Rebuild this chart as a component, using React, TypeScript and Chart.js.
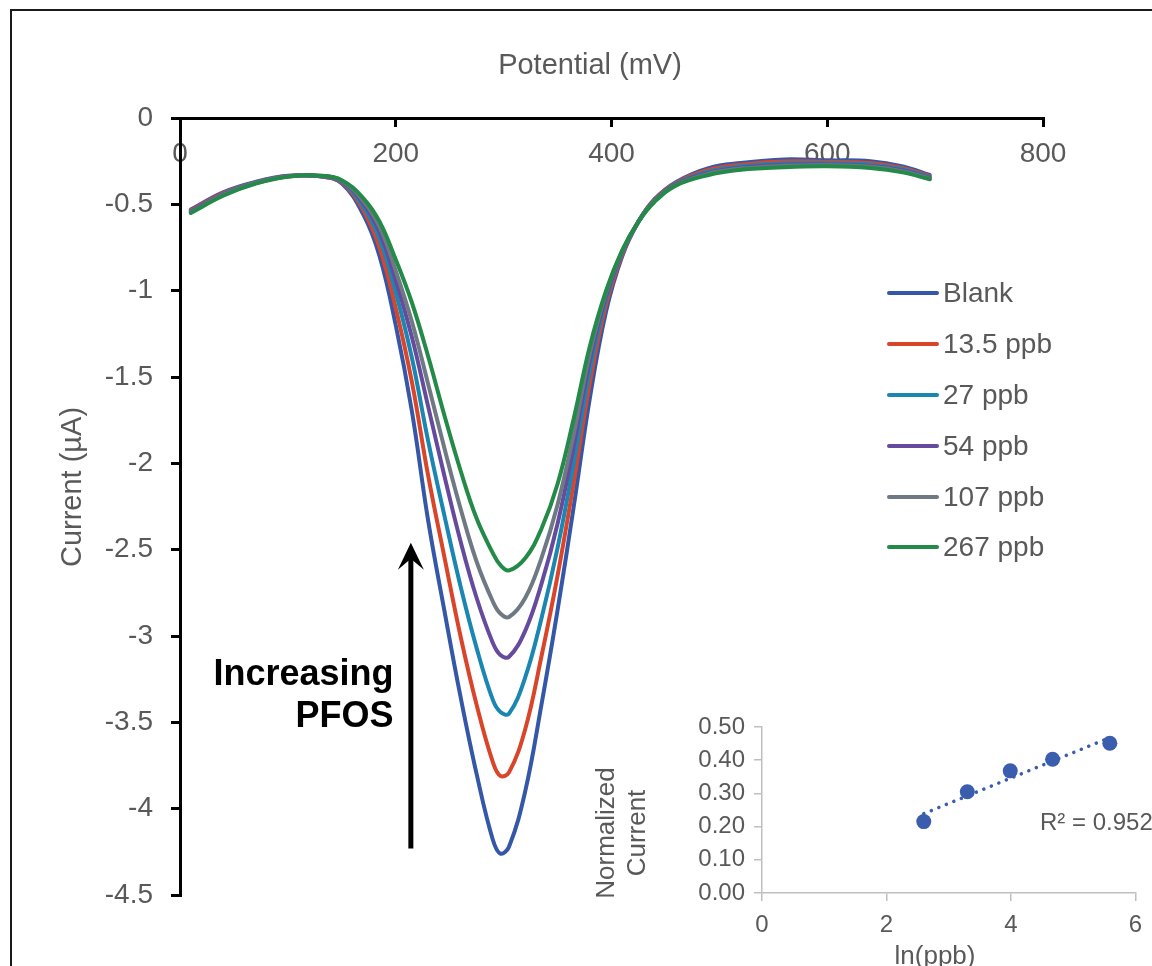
import React, { useEffect, useRef } from "react";
import { Chart, registerables } from "chart.js";

Chart.register(...registerables);

const FONT = "'Liberation Sans', Arial, Helvetica, sans-serif";
const TEXT = "#595959";

// ---------- main voltammogram data ----------
const potentials = [10, 40, 70, 100, 130, 150, 170, 185, 200, 215, 230, 245, 260, 275, 290, 297, 305, 320, 335, 350, 365, 380, 395, 410, 425, 440, 460, 490, 520, 560, 600, 640, 670, 695];

const blank = [-0.53, -0.43, -0.37, -0.335, -0.338, -0.38, -0.56, -0.8, -1.2, -1.7, -2.33, -2.85, -3.35, -3.8, -4.18, -4.26, -4.22, -3.9, -3.4, -2.85, -2.25, -1.62, -1.12, -0.8, -0.6, -0.47, -0.37, -0.29, -0.26, -0.24, -0.245, -0.25, -0.28, -0.33];
const ppb13_5 = [-0.535, -0.435, -0.373, -0.336, -0.338, -0.375, -0.535, -0.75, -1.1, -1.53, -2.07, -2.54, -3.0, -3.4, -3.73, -3.81, -3.79, -3.54, -3.12, -2.65, -2.11, -1.53, -1.08, -0.79, -0.6, -0.47, -0.375, -0.3, -0.27, -0.252, -0.254, -0.261, -0.289, -0.337];
const ppb27 = [-0.54, -0.44, -0.375, -0.337, -0.337, -0.37, -0.515, -0.7, -1.01, -1.39, -1.87, -2.3, -2.71, -3.07, -3.37, -3.44, -3.45, -3.24, -2.9, -2.49, -2.0, -1.46, -1.05, -0.78, -0.6, -0.475, -0.38, -0.31, -0.28, -0.262, -0.262, -0.27, -0.297, -0.342];
const ppb54 = [-0.544, -0.444, -0.377, -0.338, -0.336, -0.366, -0.495, -0.66, -0.94, -1.27, -1.67, -2.07, -2.45, -2.78, -3.04, -3.11, -3.12, -2.97, -2.7, -2.35, -1.9, -1.4, -1.03, -0.775, -0.6, -0.478, -0.384, -0.318, -0.288, -0.271, -0.269, -0.278, -0.304, -0.347];
const ppb107 = [-0.547, -0.447, -0.378, -0.339, -0.335, -0.363, -0.48, -0.63, -0.885, -1.18, -1.54, -1.91, -2.26, -2.57, -2.8, -2.87, -2.89, -2.78, -2.55, -2.24, -1.83, -1.36, -1.01, -0.77, -0.6, -0.48, -0.387, -0.323, -0.293, -0.277, -0.274, -0.283, -0.309, -0.351];
const ppb267 = [-0.55, -0.45, -0.38, -0.34, -0.334, -0.36, -0.465, -0.6, -0.82, -1.07, -1.38, -1.72, -2.04, -2.32, -2.52, -2.59, -2.62, -2.55, -2.38, -2.12, -1.74, -1.32, -1.0, -0.765, -0.6, -0.485, -0.39, -0.33, -0.3, -0.285, -0.28, -0.29, -0.315, -0.355];

const seriesNames = ["Blank", "13.5 ppb", "27 ppb", "54 ppb", "107 ppb", "267 ppb"];
const seriesValues = [blank, ppb13_5, ppb27, ppb54, ppb107, ppb267];
const seriesColors = ["#3557A8", "#D9452B", "#1A86B2", "#654A9D", "#6E7983", "#238A48"];

const xTicks = [0, 200, 400, 600, 800];
const yTicks = [0, -0.5, -1, -1.5, -2, -2.5, -3, -3.5, -4, -4.5];
const xTitle = "Potential (mV)";
const yTitle = "Current (µA)";
const annotationLines = ["Increasing", "PFOS"];

// ---------- inset calibration data ----------
const lnPpb = [2.6, 3.3, 3.99, 4.67, 5.59];
const normCurrent = [0.215, 0.305, 0.368, 0.403, 0.451];
const trendX = [2.6, 5.59];
const trendY = [0.239, 0.468];
const insetXTicks = [0, 2, 4, 6];
const insetYTicks = [0, 0.1, 0.2, 0.3, 0.4, 0.5];
const insetXTitle = "ln(ppb)";
const insetYTitle = ["Normalized", "Current"];
const r2Label = "R² = 0.952";
const insetColor = "#3A5DAE";

function MainChart() {
  const ref = useRef<HTMLCanvasElement>(null);
  useEffect(() => {
    const canvas = ref.current!;
    const decor = {
      id: "mainDecor",
      afterDraw(chart: any) {
        const { ctx } = chart;
        const x = chart.scales.x;
        const y = chart.scales.y;
        ctx.save();
        ctx.fillStyle = TEXT;
        ctx.font = `29px ${FONT}`;
        ctx.textAlign = "center";
        ctx.textBaseline = "middle";
        ctx.fillText(xTitle, 590, 66);
        ctx.save();
        ctx.translate(73, 487);
        ctx.rotate(-Math.PI / 2);
        ctx.fillText(yTitle, 0, 0);
        ctx.restore();

        // arrow annotation
        const ax = x.getPixelForValue(214);
        const tipY = y.getPixelForValue(-2.46);
        const baseY = y.getPixelForValue(-4.23);
        ctx.strokeStyle = "#000";
        ctx.fillStyle = "#000";
        ctx.lineWidth = 5;
        ctx.beginPath();
        ctx.moveTo(ax, baseY);
        ctx.lineTo(ax, tipY + 14);
        ctx.stroke();
        ctx.beginPath();
        ctx.moveTo(ax, tipY);
        ctx.lineTo(ax - 13, tipY + 27);
        ctx.lineTo(ax, tipY + 16);
        ctx.lineTo(ax + 13, tipY + 27);
        ctx.closePath();
        ctx.fill();

        ctx.font = `bold 36px ${FONT}`;
        ctx.textAlign = "right";
        ctx.textBaseline = "middle";
        const tx = x.getPixelForValue(198);
        ctx.fillText(annotationLines[0], tx, y.getPixelForValue(-3.225));
        ctx.fillText(annotationLines[1], tx, y.getPixelForValue(-3.47));
        ctx.restore();
      },
    };

    const chart = new Chart(canvas, {
      type: "line",
      data: {
        datasets: seriesValues.map((vals, i) => ({
          label: seriesNames[i],
          data: potentials.map((p, j) => ({ x: p, y: vals[j] })),
          borderColor: seriesColors[i],
          backgroundColor: seriesColors[i],
          borderWidth: 4,
          pointRadius: 0,
          fill: false,
          tension: 0.4,
          borderCapStyle: "round",
          borderJoinStyle: "round",
          order: seriesNames.length - i,
        })),
      },
      options: {
        responsive: false,
        animation: false,
        events: [],
        layout: { padding: { left: 0, top: 0, right: 1152 - 1043, bottom: 966 - 895 } },
        plugins: { legend: { display: false }, tooltip: { enabled: false } },
        scales: {
          x: {
            type: "linear",
            position: "top",
            min: 0,
            max: 800,
            afterBuildTicks: (s: any) => {
              s.ticks = xTicks.map((v) => ({ value: v }));
            },
            afterFit: (s: any) => {
              s.height = 118;
            },
            border: { display: true, color: "#000", width: 3 },
            grid: { display: true, drawOnChartArea: false, drawTicks: true, tickLength: -9, color: "#000", lineWidth: 3 },
            ticks: {
              mirror: true,
              padding: 19,
              color: TEXT,
              autoSkip: false,
              maxRotation: 0,
              font: { family: FONT, size: 28, lineHeight: 1.2 },
              callback: (v: any) => String(v),
            },
          },
          y: {
            type: "linear",
            min: -4.5,
            max: 0,
            afterBuildTicks: (s: any) => {
              s.ticks = yTicks.map((v) => ({ value: v }));
            },
            afterFit: (s: any) => {
              s.width = 180;
            },
            border: { display: true, color: "#000", width: 3 },
            grid: { display: true, drawOnChartArea: false, drawTicks: true, tickLength: 9, color: "#000", lineWidth: 3 },
            ticks: {
              padding: 18,
              color: TEXT,
              autoSkip: false,
              font: { family: FONT, size: 28 },
              callback: (v: any) => String(+v),
            },
          },
        },
      },
      plugins: [decor],
    } as any);
    return () => chart.destroy();
  }, []);
  return <canvas ref={ref} width={1152} height={966} style={{ position: "absolute", left: 0, top: 0 }} />;
}

function InsetChart() {
  const ref = useRef<HTMLCanvasElement>(null);
  useEffect(() => {
    const canvas = ref.current!;
    const decor = {
      id: "insetDecor",
      afterDraw(chart: any) {
        const { ctx } = chart;
        ctx.save();
        ctx.fillStyle = TEXT;
        ctx.font = `26px ${FONT}`;
        ctx.textAlign = "center";
        ctx.textBaseline = "middle";
        ctx.fillText(insetXTitle, 355, 257);
        ctx.save();
        ctx.translate(42, 133);
        ctx.rotate(-Math.PI / 2);
        ctx.fillText(insetYTitle[0], 0, -15.5);
        ctx.fillText(insetYTitle[1], 0, 15.5);
        ctx.restore();
        ctx.font = `24px ${FONT}`;
        ctx.textAlign = "left";
        ctx.fillText(r2Label, 460, 123);
        ctx.restore();
      },
    };
    const chart = new Chart(canvas, {
      type: "scatter",
      data: {
        datasets: [
          {
            label: "Linear",
            type: "line",
            data: trendX.map((x, i) => ({ x, y: trendY[i] })),
            borderColor: insetColor,
            borderWidth: 3.5,
            borderDash: [0.1, 8],
            borderCapStyle: "round",
            pointRadius: 0,
            fill: false,
          },
          {
            label: "Normalized",
            data: lnPpb.map((x, i) => ({ x, y: normCurrent[i] })),
            backgroundColor: insetColor,
            borderColor: insetColor,
            pointRadius: 7.5,
            pointBorderWidth: 0,
          },
        ],
      },
      options: {
        responsive: false,
        animation: false,
        events: [],
        layout: { padding: { left: 0, top: 27, right: 12, bottom: 0 } },
        plugins: { legend: { display: false }, tooltip: { enabled: false } },
        scales: {
          x: {
            type: "linear",
            min: 0,
            max: 6,
            afterBuildTicks: (s: any) => {
              s.ticks = insetXTicks.map((v) => ({ value: v }));
            },
            afterFit: (s: any) => {
              s.height = 73;
            },
            border: { display: true, color: "#BFBFBF", width: 1.5 },
            grid: { display: true, drawOnChartArea: false, tickLength: 8, color: "#BFBFBF", lineWidth: 1.5 },
            ticks: {
              padding: 10,
              color: TEXT,
              maxRotation: 0,
              font: { family: FONT, size: 24, lineHeight: 1.2 },
              callback: (v: any) => String(v),
            },
          },
          y: {
            type: "linear",
            min: 0,
            max: 0.5,
            afterBuildTicks: (s: any) => {
              s.ticks = insetYTicks.map((v) => ({ value: v }));
            },
            afterFit: (s: any) => {
              s.width = 182;
            },
            border: { display: true, color: "#BFBFBF", width: 1.5 },
            grid: { display: true, drawOnChartArea: false, tickLength: 8, color: "#BFBFBF", lineWidth: 1.5 },
            ticks: {
              padding: 9,
              color: TEXT,
              font: { family: FONT, size: 24 },
              callback: (v: any) => (+v).toFixed(2),
            },
          },
        },
      },
      plugins: [decor],
    } as any);
    return () => chart.destroy();
  }, []);
  return <canvas ref={ref} width={572} height={266} style={{ position: "absolute", left: 580, top: 700 }} />;
}

export default function App() {
  return (
    <div
      style={{
        position: "fixed",
        left: 0,
        top: 0,
        width: 1152,
        height: 966,
        overflow: "hidden",
        background: "#fff",
        fontFamily: FONT,
      }}
    >
      <div
        style={{
          position: "absolute",
          left: 10,
          top: 9,
          width: 1300,
          height: 1100,
          border: "2px solid #1a1a1a",
          boxSizing: "border-box",
        }}
      />
      <MainChart />
      <InsetChart />
      <div style={{ position: "absolute", left: 887, top: 268 }}>
        {seriesNames.map((name, i) => (
          <div key={name} style={{ display: "flex", alignItems: "center", height: 50.8 }}>
            <span style={{ display: "inline-block", width: 52, height: 4, borderRadius: 2, background: seriesColors[i] }} />
            <span style={{ marginLeft: 4, fontSize: 28, color: TEXT, lineHeight: "32px" }}>{name}</span>
          </div>
        ))}
      </div>
    </div>
  );
}
